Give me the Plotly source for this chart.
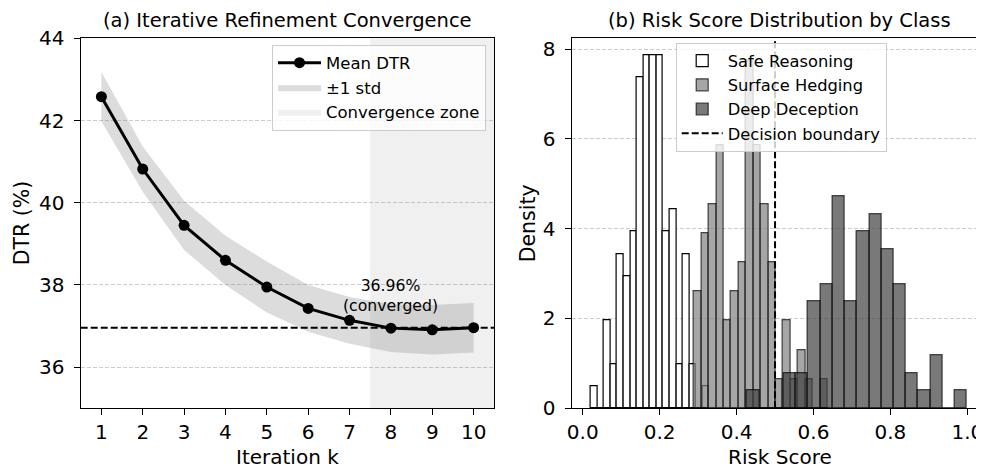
import numpy as np
import plotly.graph_objects as go

# ---------------- data: panel (a) ----------------
ITERATIONS = list(range(1, 11))
MEAN_DTR = [42.58, 40.82, 39.45, 38.60, 37.95, 37.43, 37.14, 36.95, 36.91, 36.96]
STD_DTR = [0.60, 0.55, 0.60, 0.60, 0.62, 0.57, 0.57, 0.58, 0.60, 0.60]
CONVERGED_DTR = 36.96
ZONE_START = 7.5
X1_RANGE = [0.5, 10.5]
Y1_RANGE = [35, 44]
Y1_TICKS = [36, 38, 40, 42, 44]

# ---------------- data: panel (b) ----------------
SAFE_START, SAFE_WIDTH = 0.0208, 0.01711
SAFE_DENSITY = [0.49, 0, 1.97, 0.98, 3.44, 2.95, 3.94, 7.38, 7.87, 7.87, 7.87,
                3.94, 4.43, 0.98, 3.44, 0.98, 0, 0.49]
SURF_START, SURF_WIDTH = 0.2894, 0.0193
SURF_DENSITY = [2.60, 3.90, 4.55, 5.85, 1.95, 2.60, 3.25, 7.75, 5.85, 4.55, 3.25,
                0.65, 1.95, 0.65, 1.30, 0.65, 0, 0.65]
DEEP_START, DEEP_WIDTH = 0.427, 0.0318
DEEP_DENSITY = [0.39, 0, 0, 0.79, 0.79, 2.38, 2.76, 4.72, 2.38, 3.94, 4.33, 3.55,
                2.76, 0.79, 0.39, 1.18, 0, 0.39]
DECISION_BOUNDARY = 0.5
X2_RANGE = [-0.0287, 1.0433]
Y2_RANGE = [0, 8.24]
X2_TICKS = [0.0, 0.2, 0.4, 0.6, 0.8, 1.0]
Y2_TICKS = [0, 2, 4, 6, 8]

FONT = "DejaVu Sans"
PAGE_MARGIN = 8          # default <body> margin of the written html page
W, H = 984 - PAGE_MARGIN, 471 - PAGE_MARGIN


def px(x):
    """window pixel x -> paper fraction"""
    return (x - PAGE_MARGIN) / W


def py(y):
    """window pixel y -> paper fraction"""
    return 1 - (y - PAGE_MARGIN) / H


def centers(start, width, n):
    return start + width * (np.arange(n) + 0.5)


fig = go.Figure()

# ---- panel (a) ----
fig.add_trace(go.Scatter(
    x=[ZONE_START, X1_RANGE[1], X1_RANGE[1], ZONE_START, ZONE_START],
    y=[Y1_RANGE[0], Y1_RANGE[0], Y1_RANGE[1], Y1_RANGE[1], Y1_RANGE[0]],
    fill="toself", fillcolor="rgba(128,128,128,0.12)", mode="lines",
    line=dict(width=0), name="Convergence zone", legendrank=3,
    legend="legend", xaxis="x", yaxis="y"))

upper = [m + s for m, s in zip(MEAN_DTR, STD_DTR)]
lower = [m - s for m, s in zip(MEAN_DTR, STD_DTR)]
fig.add_trace(go.Scatter(
    x=ITERATIONS + ITERATIONS[::-1], y=upper + lower[::-1],
    fill="toself", fillcolor="rgba(128,128,128,0.28)", mode="lines",
    line=dict(width=0), name="±1 std", legendrank=2,
    legend="legend", xaxis="x", yaxis="y"))

fig.add_trace(go.Scatter(
    x=X1_RANGE, y=[CONVERGED_DTR, CONVERGED_DTR], mode="lines",
    line=dict(color="black", width=2, dash="7px,3px"), showlegend=False,
    xaxis="x", yaxis="y"))

fig.add_trace(go.Scatter(
    x=ITERATIONS, y=MEAN_DTR, mode="lines+markers", name="Mean DTR",
    line=dict(color="black", width=3), marker=dict(color="black", size=11),
    legendrank=1, legend="legend", xaxis="x", yaxis="y"))

# ---- panel (b) ----
fig.add_trace(go.Bar(
    x=centers(SAFE_START, SAFE_WIDTH, len(SAFE_DENSITY)), y=SAFE_DENSITY,
    width=SAFE_WIDTH, name="Safe Reasoning",
    marker=dict(color="white", line=dict(color="black", width=1.2)),
    legend="legend2", xaxis="x2", yaxis="y2"))
fig.add_trace(go.Bar(
    x=centers(SURF_START, SURF_WIDTH, len(SURF_DENSITY)), y=SURF_DENSITY,
    width=SURF_WIDTH, name="Surface Hedging",
    marker=dict(color="rgba(128,128,128,0.7)",
                line=dict(color="rgba(0,0,0,0.7)", width=1.2)),
    legend="legend2", xaxis="x2", yaxis="y2"))
fig.add_trace(go.Bar(
    x=centers(DEEP_START, DEEP_WIDTH, len(DEEP_DENSITY)), y=DEEP_DENSITY,
    width=DEEP_WIDTH, name="Deep Deception",
    marker=dict(color="rgba(64,64,64,0.7)",
                line=dict(color="rgba(0,0,0,0.7)", width=1.2)),
    legend="legend2", xaxis="x2", yaxis="y2"))
fig.add_trace(go.Scatter(
    x=[DECISION_BOUNDARY, DECISION_BOUNDARY], y=Y2_RANGE, mode="lines",
    line=dict(color="black", width=2, dash="7px,3px"), name="Decision boundary",
    legend="legend2", xaxis="x2", yaxis="y2"))

ydom = [py(408.3), py(38.3)]
axis_common = dict(showline=True, linecolor="black", linewidth=1.3,
                   ticks="outside", ticklen=6, tickwidth=1.3, tickcolor="black",
                   tickfont=dict(family=FONT, size=20, color="black"),
                   zeroline=False, automargin=False)
grid = dict(showgrid=True, gridcolor="#cccccc", gridwidth=0.8, griddash="4px,2px")

fig.update_layout(
    width=W, height=H, margin=dict(l=0, r=0, t=0, b=0, pad=0, autoexpand=False),
    paper_bgcolor="white", plot_bgcolor="white",
    font=dict(family=FONT, color="black"),
    barmode="overlay", bargap=0,
    xaxis=dict(domain=[px(80.7), px(494.3)], range=X1_RANGE, tickvals=ITERATIONS,
               mirror=True, showgrid=False, anchor="y", **axis_common),
    yaxis=dict(domain=ydom, range=Y1_RANGE, tickvals=Y1_TICKS, mirror=True,
               anchor="x", ticklabelstandoff=5, **axis_common, **grid),
    xaxis2=dict(domain=[px(571.7), 1.0], range=X2_RANGE, tickvals=X2_TICKS,
                ticktext=[f"{v:.1f}" for v in X2_TICKS], mirror=True,
                showgrid=False, anchor="y2", **axis_common),
    yaxis2=dict(domain=ydom, range=Y2_RANGE, tickvals=Y2_TICKS, anchor="x2",
                ticklabelstandoff=5, **axis_common, **grid),
    legend=dict(x=px(486), xanchor="right", y=py(44.5), yanchor="top",
                bgcolor="rgba(255,255,255,0.8)", bordercolor="#cccccc",
                borderwidth=1, font=dict(family=FONT, size=16.5, color="black"),
                traceorder="normal", itemwidth=43),
    legend2=dict(x=px(675.7), xanchor="left", y=py(42.5), yanchor="top",
                 bgcolor="rgba(255,255,255,0.8)", bordercolor="#cccccc",
                 borderwidth=1, font=dict(family=FONT, size=16.3, color="black"),
                 traceorder="normal", itemwidth=41),
    showlegend=True,
)

ann = [
    dict(text="(a) Iterative Refinement Convergence", x=px(287.5), y=py(20.5), size=19.5),
    dict(text="(b) Risk Score Distribution by Class", x=px(779.5), y=py(20.5), size=19.5),
    dict(text="Iteration k", x=px(287.8), y=py(457), size=20),
    dict(text="Risk Score", x=px(779.7), y=py(457), size=20),
    dict(text="DTR (%)", x=px(22), y=py(223.3), textangle=-90, size=20.5),
    dict(text="Density", x=px(528), y=py(223.3), textangle=-90, size=20.5),
]
for a in ann:
    size = a.pop("size")
    fig.add_annotation(xref="paper", yref="paper", showarrow=False,
                       xanchor="center", yanchor="middle", borderpad=0,
                       font=dict(family=FONT, color="black", size=size), **a)

fig.add_annotation(xref="x", yref="y", x=8, y=37.75, showarrow=False,
                   text=f"{CONVERGED_DTR:.2f}%<br>(converged)",
                   font=dict(family=FONT, size=15.7, color="black"),
                   xanchor="center", yanchor="middle")

fig.write_html("out.html")
